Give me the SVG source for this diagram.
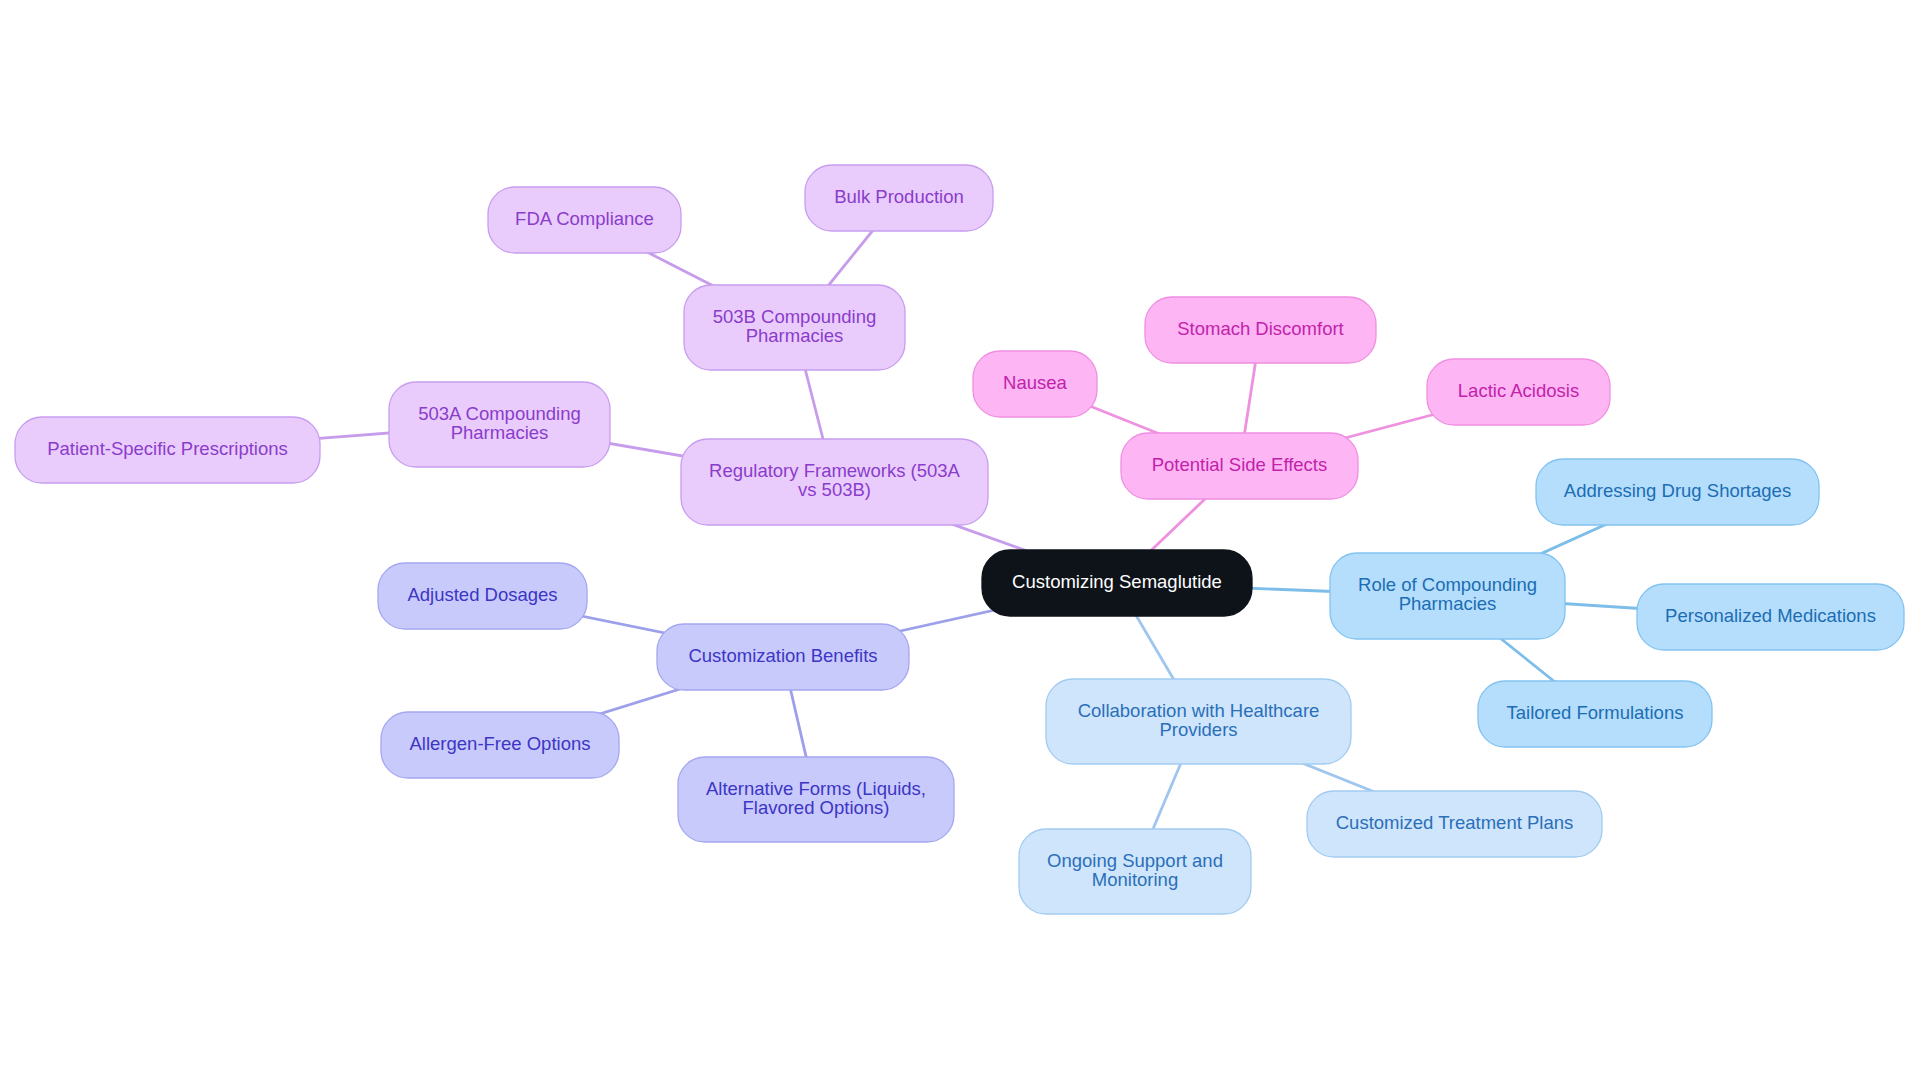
<svg xmlns="http://www.w3.org/2000/svg" width="1920" height="1083" viewBox="0 0 1920 1083">
<style>
  text { font-family: "Liberation Sans", Arial, sans-serif; font-size: 18.5px; text-anchor: middle; }
  .edge { fill: none; stroke-width: 2.8; stroke-linecap: round; }
  .e-pur { stroke: #C69CEB; }
  .e-pnk { stroke: #EE91DE; }
  .e-blu { stroke: #7DBDE9; }
  .e-lbl { stroke: #9EC6EE; }
  .e-ind { stroke: #9C9FE9; }
  .n rect { stroke-width: 1.3; }
  .pur rect { fill: #E9CCFC; stroke: #C89DEF; }
  .pur text { fill: #8A3CCB; }
  .pnk rect { fill: #FDB6F3; stroke: #F08FE2; }
  .pnk text { fill: #C222AB; }
  .blu rect { fill: #B4DEFC; stroke: #82C3F0; }
  .blu text { fill: #1C6DB3; }
  .lbl rect { fill: #CEE5FC; stroke: #A2CBF1; }
  .lbl text { fill: #2B6FB8; }
  .ind rect { fill: #C8CAFC; stroke: #A5A7F0; }
  .ind text { fill: #3D35C4; }
  .root rect { fill: #0E131A; stroke: #0E131A; }
  .root text { fill: #FFFFFF; }
</style>
<rect x="0" y="0" width="1920" height="1083" fill="#FFFFFF"/>
<g id="connectors">
  <line class="edge e-pur" x1="1117" y1="583" x2="834" y2="482"/>
  <line class="edge e-pur" x1="834" y1="482" x2="794.5" y2="327.5"/>
  <line class="edge e-pur" x1="834" y1="482" x2="499.5" y2="424.5"/>
  <line class="edge e-pur" x1="794.5" y1="327.5" x2="584.5" y2="220"/>
  <line class="edge e-pur" x1="794.5" y1="327.5" x2="899" y2="198"/>
  <line class="edge e-pur" x1="499.5" y1="424.5" x2="167.5" y2="450"/>
  <line class="edge e-pnk" x1="1117" y1="583" x2="1239.5" y2="466"/>
  <line class="edge e-pnk" x1="1239.5" y1="466" x2="1035" y2="384"/>
  <line class="edge e-pnk" x1="1239.5" y1="466" x2="1260.5" y2="330"/>
  <line class="edge e-pnk" x1="1239.5" y1="466" x2="1518.5" y2="392"/>
  <line class="edge e-blu" x1="1117" y1="583" x2="1447.5" y2="596"/>
  <line class="edge e-blu" x1="1447.5" y1="596" x2="1677.5" y2="492"/>
  <line class="edge e-blu" x1="1447.5" y1="596" x2="1770.5" y2="617"/>
  <line class="edge e-blu" x1="1447.5" y1="596" x2="1595" y2="714"/>
  <line class="edge e-lbl" x1="1117" y1="583" x2="1198.5" y2="721.5"/>
  <line class="edge e-lbl" x1="1198.5" y1="721.5" x2="1454.5" y2="824"/>
  <line class="edge e-lbl" x1="1198.5" y1="721.5" x2="1135" y2="871.5"/>
  <line class="edge e-ind" x1="1117" y1="583" x2="783" y2="657"/>
  <line class="edge e-ind" x1="783" y1="657" x2="482.5" y2="596"/>
  <line class="edge e-ind" x1="783" y1="657" x2="500" y2="745"/>
  <line class="edge e-ind" x1="783" y1="657" x2="816" y2="799.5"/>
</g>

<g id="node-root" class="n root">
  <rect x="982" y="550" width="270" height="66" rx="28"/>
  <text x="1117" y="588">Customizing Semaglutide</text>
</g>

<g id="node-regulatory" class="n pur">
  <rect x="681" y="439" width="307" height="86" rx="27"/>
  <text x="834.5" y="477">Regulatory Frameworks (503A</text>
  <text x="834.5" y="496">vs 503B)</text>
</g>
<g id="node-503b" class="n pur">
  <rect x="684" y="285" width="221" height="85" rx="27"/>
  <text x="794.5" y="322.5">503B Compounding</text>
  <text x="794.5" y="341.5">Pharmacies</text>
</g>
<g id="node-fda" class="n pur">
  <rect x="488" y="187" width="193" height="66" rx="27"/>
  <text x="584.5" y="224.5">FDA Compliance</text>
</g>
<g id="node-bulk" class="n pur">
  <rect x="805" y="165" width="188" height="66" rx="27"/>
  <text x="899" y="202.5">Bulk Production</text>
</g>
<g id="node-503a" class="n pur">
  <rect x="389" y="382" width="221" height="85" rx="27"/>
  <text x="499.5" y="419.5">503A Compounding</text>
  <text x="499.5" y="438.5">Pharmacies</text>
</g>
<g id="node-patient" class="n pur">
  <rect x="15" y="417" width="305" height="66" rx="27"/>
  <text x="167.5" y="454.5">Patient-Specific Prescriptions</text>
</g>

<g id="node-side-effects" class="n pnk">
  <rect x="1121" y="433" width="237" height="66" rx="27"/>
  <text x="1239.5" y="470.5">Potential Side Effects</text>
</g>
<g id="node-stomach" class="n pnk">
  <rect x="1145" y="297" width="231" height="66" rx="27"/>
  <text x="1260.5" y="334.5">Stomach Discomfort</text>
</g>
<g id="node-nausea" class="n pnk">
  <rect x="973" y="351" width="124" height="66" rx="27"/>
  <text x="1035" y="388.5">Nausea</text>
</g>
<g id="node-lactic" class="n pnk">
  <rect x="1427" y="359" width="183" height="66" rx="27"/>
  <text x="1518.5" y="396.5">Lactic Acidosis</text>
</g>

<g id="node-role" class="n blu">
  <rect x="1330" y="553" width="235" height="86" rx="27"/>
  <text x="1447.5" y="591">Role of Compounding</text>
  <text x="1447.5" y="610">Pharmacies</text>
</g>
<g id="node-shortages" class="n blu">
  <rect x="1536" y="459" width="283" height="66" rx="27"/>
  <text x="1677.5" y="496.5">Addressing Drug Shortages</text>
</g>
<g id="node-personalized" class="n blu">
  <rect x="1637" y="584" width="267" height="66" rx="27"/>
  <text x="1770.5" y="621.5">Personalized Medications</text>
</g>
<g id="node-tailored" class="n blu">
  <rect x="1478" y="681" width="234" height="66" rx="27"/>
  <text x="1595" y="718.5">Tailored Formulations</text>
</g>

<g id="node-collab" class="n lbl">
  <rect x="1046" y="679" width="305" height="85" rx="27"/>
  <text x="1198.5" y="716.5">Collaboration with Healthcare</text>
  <text x="1198.5" y="735.5">Providers</text>
</g>
<g id="node-treatment" class="n lbl">
  <rect x="1307" y="791" width="295" height="66" rx="27"/>
  <text x="1454.5" y="828.5">Customized Treatment Plans</text>
</g>
<g id="node-ongoing" class="n lbl">
  <rect x="1019" y="829" width="232" height="85" rx="27"/>
  <text x="1135" y="866.5">Ongoing Support and</text>
  <text x="1135" y="885.5">Monitoring</text>
</g>

<g id="node-benefits" class="n ind">
  <rect x="657" y="624" width="252" height="66" rx="27"/>
  <text x="783" y="661.5">Customization Benefits</text>
</g>
<g id="node-dosages" class="n ind">
  <rect x="378" y="563" width="209" height="66" rx="27"/>
  <text x="482.5" y="600.5">Adjusted Dosages</text>
</g>
<g id="node-allergen" class="n ind">
  <rect x="381" y="712" width="238" height="66" rx="27"/>
  <text x="500" y="749.5">Allergen-Free Options</text>
</g>
<g id="node-alternative" class="n ind">
  <rect x="678" y="757" width="276" height="85" rx="27"/>
  <text x="816" y="794.5">Alternative Forms (Liquids,</text>
  <text x="816" y="813.5">Flavored Options)</text>
</g>
</svg>
